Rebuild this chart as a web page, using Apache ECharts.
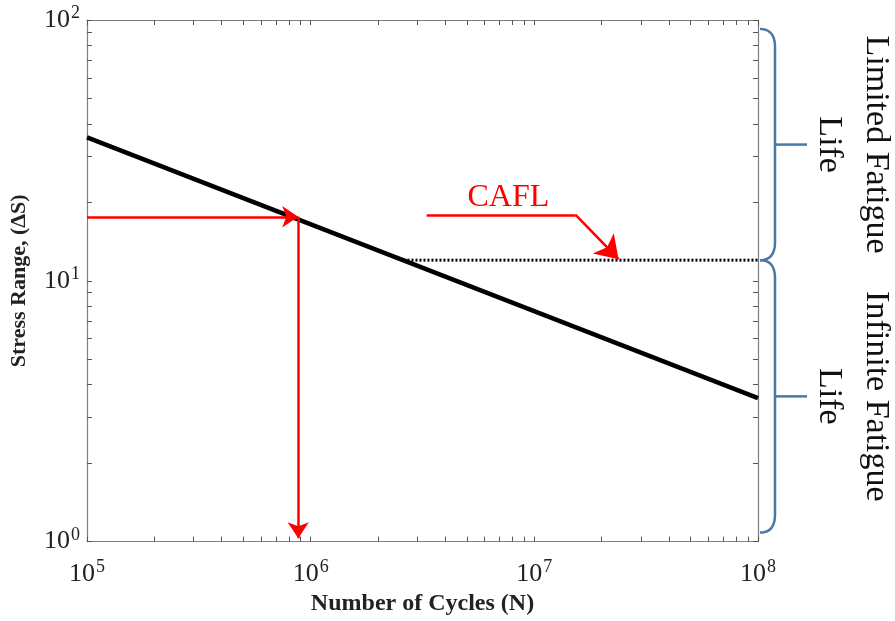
<!DOCTYPE html>
<html>
<head>
<meta charset="utf-8">
<script src="https://cdn.jsdelivr.net/npm/echarts@6/dist/echarts.min.js"></script>
<style>
  html, body { margin: 0; padding: 0; background: #fff; }
  #chart { width: 895px; height: 621px; }
</style>
</head>
<body>
<div id="chart"></div>
<script>
// S-N curve (log-log): stress range vs number of cycles
const snCycles = [1e5, 1e8];
const snStress = [35.5, 3.55];

// Constant amplitude fatigue limit
const caflStress = 12;
const caflCycles = [2.6e6, 1e8];

// Example read-off: stress range -> life
const designStress = 17.6;
const designCycles = 8.8e5;
const axisFloor = 1.03;

// Pointer to the CAFL line (cycles, stress)
const caflPointer = [[3.3e6, 17.9], [1.53e7, 17.9], [2.38e7, 12.1]];

// Decade tick labels
const xDecades = [1e5, 1e6, 1e7, 1e8];
const yDecades = [1, 10, 100];

function logTicks(lo, hi) {
  const out = [];
  for (let k = lo; k < hi; k++) {
    for (let m = 1; m <= 9; m++) out.push(m * Math.pow(10, k));
  }
  out.push(Math.pow(10, hi));
  return out;
}
const xTicks = logTicks(5, 8);
const yTicks = logTicks(0, 2);

const FONT = '"Liberation Serif", "Times New Roman", serif';
const AXIS_GRAY = '#7f7f7f';

function powLabel(v) {
  const e = Math.round(Math.log10(v));
  return '{b|10}{s|' + e + '}';
}
const richPow = {
  b: { fontFamily: FONT, fontSize: 26, color: '#222' },
  s: { fontFamily: FONT, fontSize: 18, color: '#222', verticalAlign: 'top', padding: [0, 0, 13, 1] }
};

function makeXAxis(pos, main) {
  return {
    type: 'log', logBase: 10, min: 1e5, max: 1e8, position: pos,
    axisLine: { show: true, onZero: false, lineStyle: { color: AXIS_GRAY, width: 1.2 } },
    axisTick: { show: true, inside: true, length: 5, customValues: xTicks, lineStyle: { color: '#555', width: 1 } },
    axisLabel: main ? { show: true, customValues: xDecades, formatter: powLabel, rich: richPow, margin: 17 } : { show: false },
    splitLine: { show: false },
    name: main ? 'Number of Cycles (N)' : '',
    nameLocation: 'middle', nameGap: 46,
    nameTextStyle: { fontFamily: FONT, fontSize: 24, fontWeight: 'bold', color: '#222' }
  };
}
function makeYAxis(pos, main) {
  return {
    type: 'log', logBase: 10, min: 1, max: 100, position: pos,
    axisLine: { show: true, onZero: false, lineStyle: { color: AXIS_GRAY, width: 1.2 } },
    axisTick: { show: true, inside: true, length: 5, customValues: yTicks, lineStyle: { color: '#555', width: 1 } },
    axisLabel: main ? { show: true, customValues: yDecades, formatter: powLabel, rich: richPow, margin: 7 } : { show: false },
    splitLine: { show: false },
    name: main ? 'Stress Range, (\u0394S)' : '',
    nameLocation: 'middle', nameGap: 57,
    nameTextStyle: { fontFamily: FONT, fontSize: 22, fontWeight: 'bold', color: '#222' }
  };
}

const chart = echarts.init(document.getElementById('chart'), null, { renderer: 'canvas' });

const option = {
  animation: false,
  backgroundColor: '#fff',
  grid: { left: 85, right: 137, top: 20, bottom: 71, containLabel: false },
  xAxis: [makeXAxis('bottom', true), makeXAxis('top', false)],
  yAxis: [makeYAxis('left', true), makeYAxis('right', false)],
  series: [
    {
      name: 'S-N curve', type: 'line', xAxisIndex: 0, yAxisIndex: 0,
      data: snCycles.map((n, i) => [n, snStress[i]]),
      symbol: 'none', lineStyle: { color: '#000', width: 4.5 }, z: 3
    },
    {
      name: 'CAFL', type: 'line', xAxisIndex: 0, yAxisIndex: 0,
      data: caflCycles.map(n => [n, caflStress]),
      symbol: 'none', lineStyle: { color: '#000', width: 3, type: [2, 2], cap: 'butt' }, z: 2
    },
    {
      name: 'read-off', type: 'lines', coordinateSystem: 'cartesian2d', xAxisIndex: 0, yAxisIndex: 0,
      symbol: ['none', 'arrow'], symbolSize: 16,
      lineStyle: { color: '#ff0000', width: 2.5, opacity: 1, curveness: 0 },
      data: [
        { coords: [[1e5, designStress], [designCycles, designStress]] },
        { coords: [[designCycles, designStress], [designCycles, axisFloor]] },
        { coords: [caflPointer[1], caflPointer[2]], symbolSize: 22 }
      ], z: 4
    },
    {
      name: 'cafl-pointer', type: 'lines', coordinateSystem: 'cartesian2d', xAxisIndex: 0, yAxisIndex: 0,
      symbol: ['none', 'none'],
      lineStyle: { color: '#ff0000', width: 2.5, opacity: 1 },
      data: [{ coords: [caflPointer[0], caflPointer[1]] }], z: 4
    }
  ]
};
chart.setOption(option);

// Annotations: CAFL label and the life-range braces on the right
function px(n, s) { return chart.convertToPixel({ xAxisIndex: 0, yAxisIndex: 0 }, [n, s]); }
const pTop = px(1e8, 100), pCafl = px(1e8, caflStress), pBot = px(1e8, 1);
const xr = pTop[0] + 2, xb = xr + 15;
const topY = pTop[1] + 9, midY = pCafl[1], botY = pBot[1] - 9;
const BLUE = '#4a79a8';

// quadratic bezier sampled into a point list
function quad(p0, c, p1, steps) {
  const pts = [];
  for (let i = 0; i <= steps; i++) {
    const t = i / steps, u = 1 - t;
    pts.push([u * u * p0[0] + 2 * u * t * c[0] + t * t * p1[0], u * u * p0[1] + 2 * u * t * c[1] + t * t * p1[1]]);
  }
  return pts;
}
function braceElements(y0, y1) {
  const r = 18;
  const m = (y0 + y1) / 2;
  const pts = quad([xr, y0], [xb, y0], [xb, y0 + r], 12)
    .concat(quad([xb, y1 - r], [xb, y1], [xr, y1], 12));
  return [
    { type: 'polyline', shape: { points: pts }, style: { fill: null, stroke: BLUE, lineWidth: 2.5 } },
    { type: 'line', shape: { x1: xb, y1: m, x2: xb + 32, y2: m }, style: { stroke: BLUE, lineWidth: 2.5 } }
  ];
}
const labelPt = px(1.0e7, 17.9);

chart.setOption({
  graphic: [
    {
      type: 'text', x: labelPt[0] - 26, y: labelPt[1] - 17,
      style: { text: 'CAFL', fill: '#ff0000', font: '32px ' + FONT, textAlign: 'center', textVerticalAlign: 'middle' }
    }
  ].concat(braceElements(topY, midY), braceElements(midY, botY), [
    {
      type: 'text', x: 852, y: (topY + midY) / 2, rotation: -Math.PI / 2,
      style: { text: 'Limited Fatigue\nLife', fill: '#111', font: '34px ' + FONT, textAlign: 'center', textVerticalAlign: 'middle', lineHeight: 47 }
    },
    {
      type: 'text', x: 852, y: (midY + botY) / 2, rotation: -Math.PI / 2,
      style: { text: 'Infinite Fatigue\nLife', fill: '#111', font: '34px ' + FONT, textAlign: 'center', textVerticalAlign: 'middle', lineHeight: 47 }
    }
  ])
});
</script>
</body>
</html>
